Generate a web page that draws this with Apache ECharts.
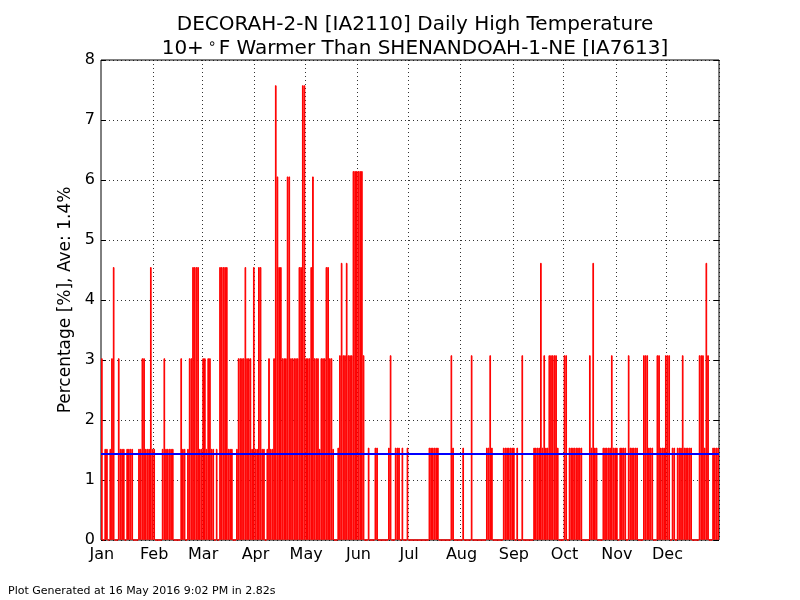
<style>html, body { margin: 0; padding: 0; background: #fff; }</style>
<div id="chart" style="width: 800px; height: 600px;"></div>
<script src="https://cdn.jsdelivr.net/npm/echarts@6/dist/echarts.min.js"></script>
<script>
const chart = echarts.init(document.getElementById('chart'));

// daily percentages, one array per month (leap year, 366 days)
const jan = [3.03,0,1.52,1.52,0,1.52,3.03,4.55,0,0,3.03,1.52,1.52,1.52,0,1.52,1.52,1.52,1.52,0,0,0,1.52,1.52,3.03,3.03,1.52,1.52,1.52,4.55,1.52];
const feb = [1.52,0,0,0,0,1.52,3.03,1.52,1.52,1.52,1.52,1.52,0,0,0,0,3.03,1.52,1.52,0,1.52,3.03,3.03,4.55,4.55,4.55,4.55,1.52,1.52];
const mar = [3.03,3.03,1.52,3.03,3.03,1.52,1.52,0,1.52,0,4.55,4.55,4.55,4.55,4.55,1.52,1.52,1.52,0,0,1.52,3.03,3.03,3.03,3.03,4.55,3.03,3.03,3.03,1.52,4.55];
const apr = [1.52,1.52,4.55,4.55,1.52,1.52,0,1.52,3.03,1.52,1.52,3.03,7.58,6.06,4.55,4.55,3.03,3.03,3.03,6.06,6.06,3.03,3.03,3.03,3.03,3.03,4.55,4.55,7.58,7.58];
const may = [3.03,3.03,3.03,4.55,6.06,3.03,3.03,3.03,1.52,3.03,3.03,3.03,4.55,4.55,3.03,3.03,1.52,0,0,1.54,3.08,4.62,3.08,3.08,4.62,3.08,3.08,3.08,6.15,6.15,6.15];
const jun = [6.15,6.15,6.15,3.08,0,0,1.54,0,0,0,1.54,1.54,0,0,0,0,0,0,1.54,3.08,0,0,1.54,1.54,1.54,0,1.54,0,0,1.54];
const jul = [0,0,0,0,0,0,0,0,0,0,0,0,1.54,1.54,1.54,1.54,1.54,1.54,0,0,0,0,0,0,0,3.08,1.54,0,0,0,0];
const aug = [0,1.54,0,0,0,0,3.08,0,0,0,0,0,0,0,0,1.54,1.54,3.08,1.54,0,0,0,0,0,0,1.54,1.54,1.54,1.54,1.54,1.54];
const sep = [1.54,0,1.54,0,0,3.08,0,0,0,0,0,0,1.54,1.54,1.54,1.54,4.62,1.54,3.08,1.54,1.54,3.08,3.08,3.08,3.08,3.08,1.54,0,0,0];
const oct = [3.08,3.08,0,1.54,1.54,1.54,1.54,1.54,1.54,1.54,1.54,0,0,0,0,3.08,1.54,4.62,1.54,1.54,0,0,0,1.54,1.54,1.54,1.54,1.54,3.08,1.54,1.54];
const nov = [1.54,0,1.54,1.54,1.54,1.54,0,3.08,1.54,1.54,1.54,1.54,1.54,0,0,0,3.08,3.08,3.08,1.54,1.54,1.54,0,0,3.08,3.08,1.54,1.54,1.54,3.08];
const dec = [3.08,3.08,0,1.54,1.54,0,1.54,1.54,1.54,3.08,1.54,1.54,1.54,1.54,1.54,0,0,0,0,3.08,3.08,3.08,1.54,4.62,3.08,0,0,1.54,1.54,1.54,1.54];

const average = 1.43;
const monthNames = ['Jan','Feb','Mar','Apr','May','Jun','Jul','Aug','Sep','Oct','Nov','Dec'];
const monthStarts = [0,31,60,91,121,152,182,213,244,274,305,335];
const yTicks = [0,1,2,3,4,5,6,7,8];

const values = [].concat(jan, feb, mar, apr, may, jun, jul, aug, sep, oct, nov, dec);
const dayIndex = values.map((v, i) => String(i));

const font = 'DejaVu Sans';
const isMonthStart = (i) => monthStarts.indexOf(i) >= 0;
const gridDots = { color: '#000', width: 1, type: [1, 3], opacity: 0.8 };

const option = {
  backgroundColor: '#fff',
  animation: false,
  title: {
    text: 'DECORAH-2-N [IA2110] Daily High Temperature\n10+{s|∘}F Warmer Than SHENANDOAH-1-NE [IA7613]',
    left: 410, top: 8, textAlign: 'center',
    textStyle: {
      fontFamily: font, fontSize: 20, fontWeight: 'normal', color: '#000', lineHeight: 24,
      rich: { s: { fontFamily: font, fontSize: 14, verticalAlign: 'top', padding: [0, 2, 10, 4], color: '#000' } }
    }
  },
  grid: { left: 101, top: 60, width: 618, height: 480, show: true, borderColor: '#000', borderWidth: 1, backgroundColor: 'transparent' },
  xAxis: [{
    type: 'category', data: dayIndex,
    axisLine: { show: false },
    axisTick: { inside: true, length: 5, lineStyle: { color: '#000' }, interval: (i) => isMonthStart(i) },
    axisLabel: {
      interval: (i) => isMonthStart(i), margin: 7,
      fontFamily: font, fontSize: 16, color: '#000',
      formatter: (v, i) => monthNames[monthStarts.indexOf(Number(v))]
    },
    splitLine: { show: true, interval: (i) => isMonthStart(i) && i > 0, lineStyle: gridDots }
  }, {
    type: 'category', data: dayIndex, position: 'top',
    axisLine: { show: false },
    axisTick: { inside: true, length: 5, lineStyle: { color: '#000' }, interval: (i) => isMonthStart(i) },
    axisLabel: { show: false }, splitLine: { show: false }
  }],
  yAxis: [{
    type: 'value', min: 0, max: 8, interval: 1,
    name: 'Percentage [%], Ave: 1.4%', nameLocation: 'middle', nameGap: 26,
    nameTextStyle: { fontFamily: font, fontSize: 17, color: '#000' },
    axisLine: { show: false },
    axisTick: { show: true, inside: true, length: 5, lineStyle: { color: '#000' } },
    axisLabel: { margin: 6, fontFamily: font, fontSize: 16, color: '#000',
      formatter: (v) => yTicks.indexOf(v) >= 0 ? String(v) : '' },
    splitLine: { show: true, lineStyle: gridDots }
  }, {
    type: 'value', min: 0, max: 8, interval: 1, position: 'right',
    axisLine: { show: false },
    axisTick: { show: true, inside: true, length: 5, lineStyle: { color: '#000' } },
    axisLabel: { show: false }, splitLine: { show: false }
  }],
  series: [{
    type: 'bar',
    data: values,
    barWidth: '100%',
    barCategoryGap: '0%',
    itemStyle: { color: '#ff0000', borderColor: '#ff0000', borderWidth: 1 },
    markLine: {
      silent: true, symbol: 'none', label: { show: false },
      lineStyle: { color: '#0000ff', width: 2, type: 'solid' },
      data: [{ yAxis: average }]
    }
  }],
  graphic: [{
    type: 'text', left: 8, top: 586,
    style: { text: 'Plot Generated at 16 May 2016 9:02 PM in 2.82s', font: '11px "DejaVu Sans"', fill: '#000' }
  }]
};

chart.setOption(option);
</script>
